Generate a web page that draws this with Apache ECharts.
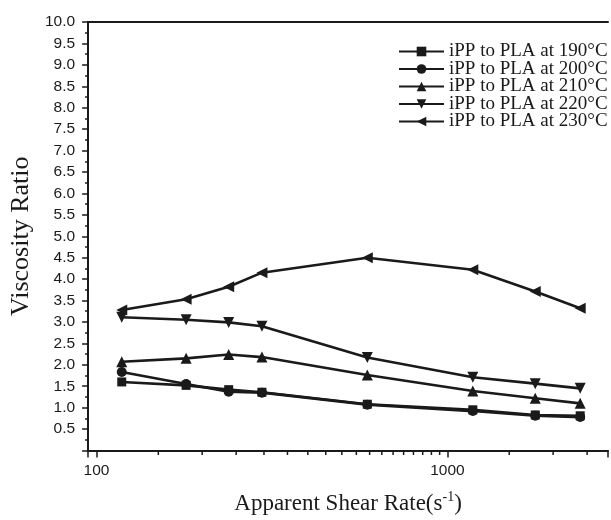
<!DOCTYPE html>
<html>
<head>
<meta charset="utf-8">
<script src="https://cdn.jsdelivr.net/npm/echarts@6/dist/echarts.min.js"></script>
<style>html,body{margin:0;padding:0;background:#fff;}#c{width:611px;height:520px;}</style>
</head>
<body>
<div id="c"></div>
<script>
// Data
const shearRates = [118, 180, 238, 296, 591, 1181, 1779, 2389];
const s190 = [1.60, 1.52, 1.42, 1.36, 1.08, 0.95, 0.83, 0.81];
const s200 = [1.83, 1.55, 1.37, 1.35, 1.07, 0.92, 0.81, 0.78];
const s210 = [2.07, 2.15, 2.24, 2.18, 1.76, 1.39, 1.22, 1.10];
const s220 = [3.11, 3.05, 2.99, 2.90, 2.17, 1.71, 1.56, 1.45];
const s230 = [3.28, 3.53, 3.82, 4.15, 4.50, 4.22, 3.71, 3.32];
const seriesNames = ['iPP to PLA at 190°C','iPP to PLA at 200°C','iPP to PLA at 210°C','iPP to PLA at 220°C','iPP to PLA at 230°C'];
const majorXTicks = [100, 1000];
const minorXTicks = [150,200,250,300,350,400,450,500,550,600,650,700,750,800,850,900,950,1500,2000,2500];

const SERIF = "'Liberation Serif','Times New Roman',serif";
const SANS = "'Liberation Sans',Arial,sans-serif";
const INK = '#1a1a1a';

function pairs(ys){ return shearRates.map((x,i)=>[x, ys[i]]); }
const symbols = [
  {symbol:'rect', rot:0, size:9},
  {symbol:'circle', rot:0, size:10},
  {symbol:'triangle', rot:0, size:11},
  {symbol:'triangle', rot:180, size:11},
  {symbol:'triangle', rot:90, size:11}
];
const allData = [s190, s200, s210, s220, s230];

const lineSeries = allData.map((d,i)=>({
  name: seriesNames[i],
  type: 'line',
  data: pairs(d),
  symbol: symbols[i].symbol,
  symbolRotate: symbols[i].rot,
  symbolSize: symbols[i].size,
  showAllSymbol: true,
  lineStyle: {color: INK, width: 2.6},
  itemStyle: {color: INK, borderWidth: 0},
  emphasis: {disabled: true},
  animation: false,
  z: 3
}));

const chart = echarts.init(document.getElementById('c'), null, {renderer:'canvas'});
chart.setOption({
  backgroundColor: '#fff',
  animation: false,
  grid: {left: 83, top: 22, right: 0, bottom: 65, containLabel: false},
  legend: {
    orient: 'vertical',
    left: 398,
    top: 42,
    padding: 0,
    itemWidth: 45,
    itemHeight: 12,
    itemGap: -1.5,
    data: seriesNames,
    textStyle: {fontFamily: SERIF, fontSize: 19, color: INK},
    selectedMode: false
  },
  xAxis: [{
    type: 'log',
    min: 94.6,
    max: 2867,
    logBase: 10,
    position: 'bottom',
    axisLine: {show: true, lineStyle: {color: INK, width: 2}},
    axisTick: {show: true, length: 7, lineStyle: {color: INK, width: 1.5}},
    axisLabel: {
      fontFamily: SANS, fontSize: 15.5, color: INK, margin: 12,
      formatter: v => (majorXTicks.some(t => Math.abs(t - v) < 1e-6) ? String(Math.round(v)) : '')
    },
    splitLine: {show: false},
    name: 'Apparent Shear Rate(s{sup|-1})',
    nameLocation: 'middle',
    nameGap: 40,
    nameTextStyle: {
      fontFamily: SERIF, fontSize: 23, color: INK,
      rich: {sup: {fontFamily: SERIF, fontSize: 14, color: INK, verticalAlign: 'top', padding: [0,0,12,0]}}
    }
  }, {
    type: 'log',
    min: 94.6,
    max: 2867,
    position: 'top',
    axisLine: {show: true, lineStyle: {color: INK, width: 2}},
    axisTick: {show: false},
    axisLabel: {show: false},
    splitLine: {show: false}
  }],
  yAxis: {
    type: 'value',
    min: 0,
    max: 10,
    interval: 0.5,
    axisLine: {show: true, lineStyle: {color: INK, width: 2}},
    axisTick: {show: true, length: 6, lineStyle: {color: INK, width: 1.5}},
    minorTick: {show: true, splitNumber: 2, length: 3, lineStyle: {color: INK, width: 1.5}},
    axisLabel: {
      fontFamily: SANS, fontSize: 15.5, color: INK, margin: 13,
      formatter: v => (v === 0 ? '' : v.toFixed(1))
    },
    splitLine: {show: false},
    name: 'Viscosity Ratio',
    nameLocation: 'middle',
    nameGap: 44,
    nameTextStyle: {fontFamily: SERIF, fontSize: 26, color: INK}
  },
  series: lineSeries.concat([{
    type: 'custom',
    name: 'minorTicks',
    clip: false,
    silent: true,
    animation: false,
    data: minorXTicks.map(v => [v, 0]),
    encode: {x: 0, y: 1},
    renderItem: (params, api) => {
      const p = api.coord([api.value(0), 0]);
      return {type: 'line', shape: {x1: p[0], y1: p[1], x2: p[0], y2: p[1] + 4.5},
              style: {stroke: INK, lineWidth: 1.5}};
    }
  }])
});
</script>
</body>
</html>
